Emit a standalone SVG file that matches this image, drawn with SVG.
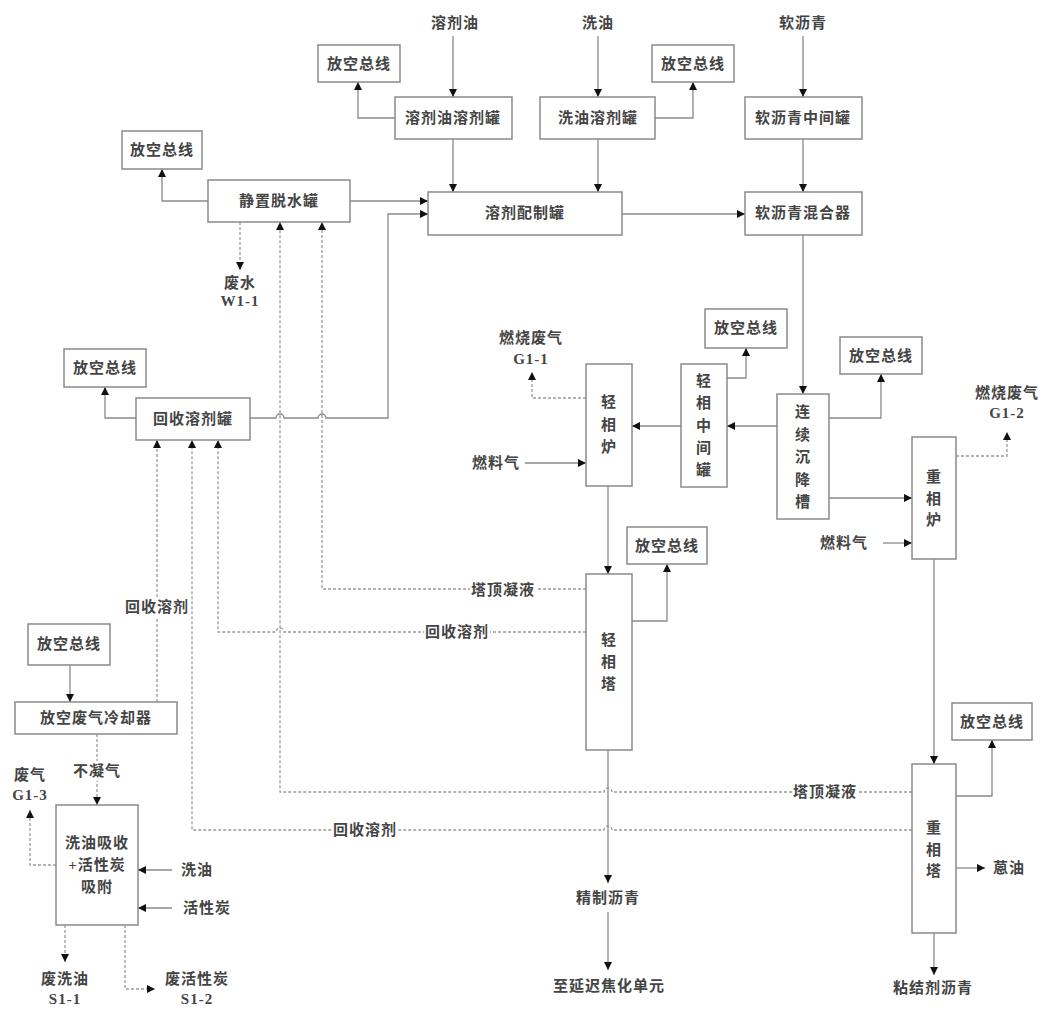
<svg xmlns="http://www.w3.org/2000/svg" width="1046" height="1012" viewBox="0 0 1046 1012">
<style>
.b{fill:#fff;stroke:#8a8a8a;stroke-width:1.5}
.t{font-family:"Liberation Serif","Noto Sans CJK SC",serif;font-size:15px;font-weight:bold;fill:#444;text-anchor:middle;dominant-baseline:central;letter-spacing:1px}
.l{fill:none;stroke:#8a8a8a;stroke-width:1.3}
.d{fill:none;stroke:#9a9a9a;stroke-width:1.3;stroke-dasharray:3,2}
.lb{fill:#fff;stroke:none}
</style>
<defs>
<marker id="a" viewBox="0 0 8 8" refX="8" refY="4" markerWidth="8" markerHeight="8" markerUnits="userSpaceOnUse" orient="auto">
<path d="M0,0 L8,4 L0,8 z" fill="#111"/>
</marker>
</defs>
<rect width="1046" height="1012" fill="#fff"/>

<g id="connectors">
<path class="l" d="M453,36 V97" marker-end="url(#a)"/>
<path class="l" d="M395,118 H358 V82" marker-end="url(#a)"/>
<path class="l" d="M453,139 V192" marker-end="url(#a)"/>
<path class="l" d="M598,36 V97" marker-end="url(#a)"/>
<path class="l" d="M655,118 H693 V82" marker-end="url(#a)"/>
<path class="l" d="M598,139 V192" marker-end="url(#a)"/>
<path class="l" d="M803,36 V97" marker-end="url(#a)"/>
<path class="l" d="M803,139 V192" marker-end="url(#a)"/>
<path class="l" d="M622,214 H745" marker-end="url(#a)"/>
<path class="l" d="M208,201 H162 V169" marker-end="url(#a)"/>
<path class="l" d="M350,201 H428" marker-end="url(#a)"/>
<path class="d" d="M240,222 V270" marker-end="url(#a)"/>
<path class="l" d="M250,418 H276 A4,4 0 0 1 284,418 H318 A4,4 0 0 1 326,418 H388 V214 H428" marker-end="url(#a)"/>
<path class="l" d="M136,418 H105 V387" marker-end="url(#a)"/>
<path class="l" d="M803,235 V394" marker-end="url(#a)"/>
<path class="l" d="M829,418 H881 V374" marker-end="url(#a)"/>
<path class="l" d="M777,426 H727" marker-end="url(#a)"/>
<path class="l" d="M727,378 H746 V348" marker-end="url(#a)"/>
<path class="l" d="M681,426 H632" marker-end="url(#a)"/>
<path class="d" d="M586,398 H532 V372" marker-end="url(#a)"/>
<path class="l" d="M525,463 H586" marker-end="url(#a)"/>
<path class="l" d="M829,498 H912" marker-end="url(#a)"/>
<path class="l" d="M883,543 H912" marker-end="url(#a)"/>
<path class="d" d="M956,456 H1007 V432" marker-end="url(#a)"/>
<path class="l" d="M608,486 V574" marker-end="url(#a)"/>
<path class="l" d="M632,621 H667 V564" marker-end="url(#a)"/>
<path class="d" d="M586,589 H322 V222" marker-end="url(#a)"/>
<path class="d" d="M586,632 H284 A4,4 0 0 0 276,632 H218 V440" marker-end="url(#a)"/>
<path class="d" d="M912,792 H612 A4,4 0 0 0 604,792 H280 V222" marker-end="url(#a)"/>
<path class="d" d="M912,830 H612 A4,4 0 0 0 604,830 H192 V440" marker-end="url(#a)"/>
<path class="d" d="M157,702 V440" marker-end="url(#a)"/>
<path class="l" d="M70,665 V702" marker-end="url(#a)"/>
<path class="d" d="M97,734 V805" marker-end="url(#a)"/>
<path class="d" d="M56,865 H30 V810" marker-end="url(#a)"/>
<path class="l" d="M172,870 H138" marker-end="url(#a)"/>
<path class="l" d="M172,908 H138" marker-end="url(#a)"/>
<path class="d" d="M65,925 V962" marker-end="url(#a)"/>
<path class="d" d="M125,925 V989 H155" marker-end="url(#a)"/>
<path class="l" d="M934,559 V764" marker-end="url(#a)"/>
<path class="l" d="M956,796 H992 V740" marker-end="url(#a)"/>
<path class="l" d="M956,868 H985" marker-end="url(#a)"/>
<path class="l" d="M934,933 V975" marker-end="url(#a)"/>
<path class="l" d="M608,750 V883" marker-end="url(#a)"/>
<path class="l" d="M608,912 V970" marker-end="url(#a)"/>
<rect class="lb" x="470" y="580" width="66" height="20"/>
<text class="t" x="503" y="590">塔顶凝液</text>
<rect class="lb" x="424" y="622" width="66" height="20"/>
<text class="t" x="457" y="632">回收溶剂</text>
<rect class="lb" x="792" y="782" width="66" height="20"/>
<text class="t" x="825" y="792">塔顶凝液</text>
<rect class="lb" x="332" y="820" width="66" height="20"/>
<text class="t" x="365" y="830">回收溶剂</text>
<rect class="lb" x="124" y="597" width="66" height="20"/>
<text class="t" x="157" y="607">回收溶剂</text>
<rect class="lb" x="72" y="761" width="50" height="20"/>
<text class="t" x="97" y="771">不凝气</text>
</g>

<g id="inputs">
<text class="t" x="455" y="23">溶剂油</text>
<text class="t" x="598" y="23">洗油</text>
<text class="t" x="803" y="23">软沥青</text>
<text class="t" x="496" y="463">燃料气</text>
<text class="t" x="844" y="543">燃料气</text>
<text class="t" x="197" y="870">洗油</text>
<text class="t" x="207" y="908">活性炭</text>
</g>

<g id="outputs">
<text class="t" x="240" y="283">废水</text>
<text class="t" x="240" y="301">W1-1</text>
<text class="t" x="531" y="338">燃烧废气</text>
<text class="t" x="531" y="359">G1-1</text>
<text class="t" x="1007" y="393">燃烧废气</text>
<text class="t" x="1007" y="413">G1-2</text>
<text class="t" x="30" y="775">废气</text>
<text class="t" x="30" y="795">G1-3</text>
<text class="t" x="65" y="979">废洗油</text>
<text class="t" x="65" y="999">S1-1</text>
<text class="t" x="197" y="979">废活性炭</text>
<text class="t" x="197" y="999">S1-2</text>
<text class="t" x="608" y="898">精制沥青</text>
<text class="t" x="609" y="986">至延迟焦化单元</text>
<text class="t" x="933" y="988">粘结剂沥青</text>
<text class="t" x="1009" y="868">蒽油</text>
</g>

<g id="vent1"><rect class="b" x="318" y="45" width="82" height="37"/><text class="t" x="359" y="64">放空总线</text></g>
<g id="solvent-oil-tank"><rect class="b" x="395" y="97" width="117" height="42"/><text class="t" x="453" y="118">溶剂油溶剂罐</text></g>
<g id="wash-oil-tank"><rect class="b" x="540" y="97" width="115" height="42"/><text class="t" x="598" y="118">洗油溶剂罐</text></g>
<g id="vent2"><rect class="b" x="652" y="45" width="82" height="37"/><text class="t" x="693" y="64">放空总线</text></g>
<g id="soft-pitch-tank"><rect class="b" x="745" y="97" width="117" height="42"/><text class="t" x="803" y="118">软沥青中间罐</text></g>
<g id="vent3"><rect class="b" x="122" y="131" width="80" height="38"/><text class="t" x="162" y="150">放空总线</text></g>
<g id="dewater-tank"><rect class="b" x="208" y="180" width="142" height="42"/><text class="t" x="279" y="201">静置脱水罐</text></g>
<g id="solvent-prep-tank"><rect class="b" x="428" y="192" width="194" height="43"/><text class="t" x="525" y="213">溶剂配制罐</text></g>
<g id="soft-pitch-mixer"><rect class="b" x="745" y="192" width="117" height="43"/><text class="t" x="803" y="213">软沥青混合器</text></g>
<g id="vent4"><rect class="b" x="64" y="349" width="82" height="38"/><text class="t" x="105" y="368">放空总线</text></g>
<g id="recovered-solvent-tank"><rect class="b" x="136" y="398" width="114" height="42"/><text class="t" x="193" y="419">回收溶剂罐</text></g>
<g id="vent5"><rect class="b" x="705" y="309" width="82" height="39"/><text class="t" x="746" y="328">放空总线</text></g>
<g id="vent6"><rect class="b" x="840" y="337" width="82" height="37"/><text class="t" x="881" y="356">放空总线</text></g>
<g id="light-furnace"><rect class="b" x="586" y="364" width="46" height="122"/>
<text class="t" x="609" y="402">轻</text><text class="t" x="609" y="425">相</text><text class="t" x="609" y="447">炉</text></g>
<g id="light-mid-tank"><rect class="b" x="681" y="364" width="46" height="123"/>
<text class="t" x="704" y="381">轻</text><text class="t" x="704" y="403">相</text><text class="t" x="704" y="426">中</text><text class="t" x="704" y="448">间</text><text class="t" x="704" y="470">罐</text></g>
<g id="settling-tank"><rect class="b" x="777" y="394" width="52" height="125"/>
<text class="t" x="803" y="412">连</text><text class="t" x="803" y="435">续</text><text class="t" x="803" y="457">沉</text><text class="t" x="803" y="480">降</text><text class="t" x="803" y="502">槽</text></g>
<g id="heavy-furnace"><rect class="b" x="912" y="437" width="44" height="122"/>
<text class="t" x="934" y="477">重</text><text class="t" x="934" y="499">相</text><text class="t" x="934" y="520">炉</text></g>
<g id="vent7"><rect class="b" x="627" y="527" width="80" height="37"/><text class="t" x="667" y="546">放空总线</text></g>
<g id="light-tower"><rect class="b" x="586" y="574" width="46" height="176"/>
<text class="t" x="609" y="640">轻</text><text class="t" x="609" y="662">相</text><text class="t" x="609" y="684">塔</text></g>
<g id="vent8"><rect class="b" x="28" y="624" width="82" height="41"/><text class="t" x="69" y="644">放空总线</text></g>
<g id="vent-cooler"><rect class="b" x="15" y="702" width="162" height="32"/><text class="t" x="96" y="718">放空废气冷却器</text></g>
<g id="absorber"><rect class="b" x="56" y="805" width="82" height="120"/>
<text class="t" x="97" y="843">洗油吸收</text><text class="t" x="97" y="865">+活性炭</text><text class="t" x="97" y="887">吸附</text></g>
<g id="vent9"><rect class="b" x="952" y="703" width="80" height="37"/><text class="t" x="992" y="722">放空总线</text></g>
<g id="heavy-tower"><rect class="b" x="912" y="764" width="44" height="169"/>
<text class="t" x="934" y="828">重</text><text class="t" x="934" y="850">相</text><text class="t" x="934" y="871">塔</text></g>
</svg>
